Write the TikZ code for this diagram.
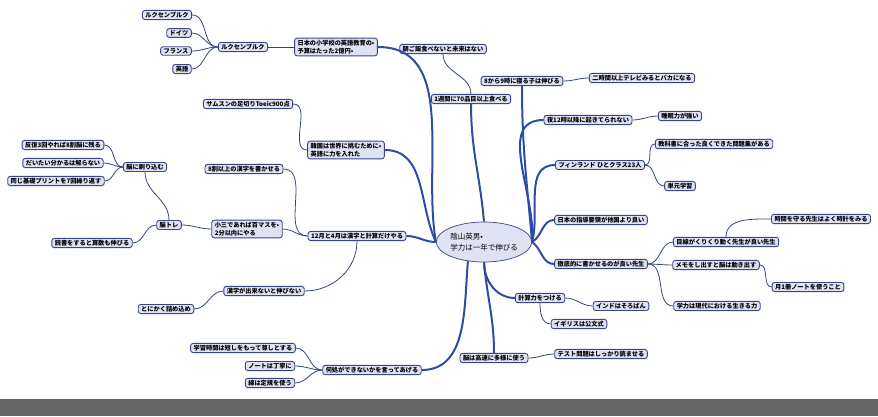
\documentclass[tikz,border=0pt]{standalone}
\usepackage{fontspec}
\setmainfont{Noto Sans CJK JP}
\usetikzlibrary{shapes.geometric}
\definecolor{trunkblue}{HTML}{2D4DA0}
\definecolor{twignavy}{HTML}{34467F}
\definecolor{boxfill}{HTML}{DFE2F3}
\definecolor{boxline}{HTML}{3B4784}
\definecolor{bandgray}{HTML}{666666}
\begin{document}
\begin{tikzpicture}[x=1pt,y=-1pt,
    topic/.style={draw=boxline,fill=boxfill,line width=0.9pt,rounded corners=2.5pt,
      inner xsep=3pt,inner ysep=1.6pt,font=\fontsize{6.2}{8.5}\selectfont\bfseries,align=left},
    rootnode/.style={ellipse,draw=boxline,fill=boxfill,line width=0.7pt,
      minimum width=92pt,minimum height=40pt,inner sep=0pt,font=\fontsize{7.5}{11}\selectfont,align=left},
    trunk/.style={draw=trunkblue,line width=2pt},
    twig/.style={draw=twignavy,line width=0.8pt}]
                    \useasboundingbox (0,0) rectangle (878,416);
                    \fill[bandgray] (0,399) rectangle (878,416);
                    % root
                    \node[rootnode] (root) at (484,242) {陰山英男•\\学力は一年で伸びる};
                    % upper left
                    \node[topic] (lux1) at (167,15) {ルクセンブルク};
                    \node[topic] (doitsu) at (179,33) {ドイツ};
                    \node[topic] (france) at (176,51) {フランス};
                    \node[topic] (eigo) at (182,69) {英語};
                    \node[topic] (luxmid) at (243,47) {ルクセンブルク};
                    \node[topic] (nihon) at (336,47) {日本の小学校の英語教育の•\\予算はたった2億円•};
                    \node[topic] (samsung) at (248,104) {サムスンの足切りToeic900点};
                    \node[topic] (korea) at (346,150) {韓国は世界に挑むために•\\英語に力を入れた};
                    % top
                    \node[topic] (asa) at (443,49) {朝ご飯食べないと未来はない};
                    \node[topic] (week) at (471,99) {1週間に70品目以上食べる};
                    \node[topic] (sleep) at (522,81) {8から9時に寝る子は伸びる};
                    \node[topic] (tv) at (642,78) {二時間以上テレビみるとバカになる};
                    % left
                    \node[topic] (kanji8) at (244,169) {8割以上の漢字を書かせる};
                    \node[topic] (hanpuku) at (63,145) {反復3回やれば8割脳に残る};
                    \node[topic] (daitai) at (63,163) {だいたい分かるは解らない};
                    \node[topic] (onaji) at (56,181) {同じ基礎プリントを7回繰り返す};
                    \node[topic] (suri) at (145,167) {脳に刷り込む};
                    \node[topic] (notore) at (169,225) {脳トレ};
                    \node[topic] (dokusho) at (92,243) {読書をすると算数も伸びる};
                    \node[topic] (hyaku) at (247,229) {小三であれば百マスを•\\2分以内にやる};
                    \node[topic] (dec) at (357,236) {12月と4月は漢字と計算だけやる};
                    \node[topic] (kanjinai) at (264,291) {漢字が出来ないと伸びない};
                    \node[topic] (tsume) at (166,309) {とにかく詰め込め};
                    % lower left
                    \node[topic] (jikan) at (243,348) {学習時間は短しをもって尊しとする};
                    \node[topic] (note) at (270,366) {ノートは丁寧に};
                    \node[topic] (sen) at (270,383) {線は定規を使う};
                    \node[topic] (doko) at (372,370) {何処ができないかを言ってあげる};
                    % right
                    \node[topic] (yoru) at (588,120) {夜12時以降に起きてられない};
                    \node[topic] (suimin) at (680,116) {睡眠力が強い};
                    \node[topic] (kyoka) at (714,144) {教科書に合った良くできた問題集がある};
                    \node[topic] (fin) at (600,165) {フィンランド ひとクラス23人};
                    \node[topic] (tangen) at (680,186) {単元学習};
                    \node[topic] (shido) at (601,220) {日本の指導要領が他国より良い};
                    \node[topic] (tokei) at (821,219) {時間を守る先生はよく時計をみる};
                    \node[topic] (mesen) at (726,242) {目線がくりくり動く先生が良い先生};
                    \node[topic] (teitei) at (601,264) {徹底的に書かせるのが良い先生};
                    \node[topic] (memo) at (716,265) {メモをし出すと脳は動き出す};
                    \node[topic] (tsuki) at (808,287) {月1冊ノートを使うこと};
                    \node[topic] (ikiru) at (717,306) {学力は現代における生きる力};
                    % lower right
                    \node[topic] (keisan) at (540,298) {計算力をつける};
                    \node[topic] (india) at (621,306) {インドはそろばん};
                    \node[topic] (igirisu) at (579,324) {イギリスは公文式};
                    \node[topic] (nou) at (494,358) {脳は高速に多様に使う};
                    \node[topic] (test) at (601,354) {テスト問題はしっかり読ませる};
                    % main branches
                    \draw[trunk] (root.west) to[out=100,in=0] (nihon.east);
                    \draw[trunk] (root.west) to[out=115,in=0] (korea.east);
                    \draw[trunk] (root.west) to[out=180,in=0] (dec.east);
                    \draw[trunk] (root.230) to[out=-95,in=0] (doko.east);
                    \draw[trunk] (root.north) to[out=95,in=-90] (week.south);
                    \draw[trunk] (root.east) to[out=95,in=-90] (sleep.south);
                    \draw[trunk] (root.east) to[out=85,in=180] (yoru.west);
                    \draw[trunk] (root.east) to[out=75,in=180] (fin.west);
                    \draw[trunk] (root.east) to[out=30,in=180] (shido.west);
                    \draw[trunk] (root.east) to[out=-35,in=180] (teitei.west);
                    \draw[trunk] (root.south) to[out=-90,in=180] (keisan.west);
                    \draw[trunk] (root.south) to[out=-85,in=90] (nou.north);
                    % sub branches
                    \foreach \leaf in {lux1,doitsu,france,eigo}
                        \draw[twig] (luxmid.west) to[out=180,in=0] (\leaf.east);
                    \draw[twig] (nihon.west) -- (luxmid.east);
                    \draw[twig] (korea.west) to[out=180,in=0] (samsung.east);
                    \draw[twig] (week.north) to[out=90,in=-90] (asa.south);
                    \draw[twig] (sleep.east) to[out=0,in=180] (tv.west);
                    \draw[twig] (dec.west) to[out=180,in=0] (kanji8.east);
                    \draw[twig] (dec.west) to[out=180,in=0] (hyaku.east);
                    \draw[twig] (dec.south) to[out=-90,in=0] (kanjinai.east);
                    \draw[twig] (kanjinai.west) to[out=180,in=0] (tsume.east);
                    \draw[twig] (hyaku.west) to[out=180,in=0] (notore.east);
                    \draw[twig] (notore.north) to[out=90,in=-90] (suri.south);
                    \draw[twig] (notore.west) to[out=180,in=0] (dokusho.east);
                    \foreach \leaf in {hanpuku,daitai,onaji}
                        \draw[twig] (suri.west) to[out=180,in=0] (\leaf.east);
                    \foreach \leaf in {jikan,note,sen}
                        \draw[twig] (doko.west) to[out=180,in=0] (\leaf.east);
                    \draw[twig] (yoru.east) to[out=0,in=180] (suimin.west);
                    \draw[twig] (fin.east) to[out=0,in=180] (kyoka.west);
                    \draw[twig] (fin.east) to[out=0,in=180] (tangen.west);
                    \foreach \leaf in {mesen,memo,ikiru}
                        \draw[twig] (teitei.east) to[out=0,in=180] (\leaf.west);
                    \draw[twig] (mesen.north) to[out=90,in=180] (tokei.west);
                    \draw[twig] (memo.east) to[out=0,in=180] (tsuki.west);
                    \draw[twig] (keisan.east) to[out=0,in=180] (india.west);
                    \draw[twig] (keisan.south) to[out=-90,in=180] (igirisu.west);
                    \draw[twig] (nou.east) to[out=0,in=180] (test.west);
                \end{tikzpicture}
\end{document}
